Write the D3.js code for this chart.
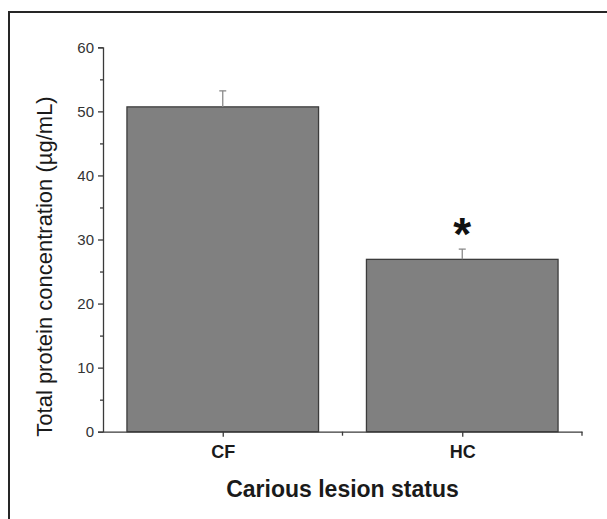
<!DOCTYPE html>
<html>
<head>
<meta charset="utf-8">
<script src="https://cdn.jsdelivr.net/npm/d3@7"></script>
<style>
  html, body { margin: 0; padding: 0; background: #fff; }
  svg { display: block; font-family: "Liberation Sans", Arial, sans-serif; }
</style>
</head>
<body>
<svg id="chart" width="607" height="519"></svg>
<script>
const categories = ["CF", "HC"];
const means = [50.7, 26.9];
const errors = [2.5, 1.6];
const significant = [false, true];
const yTicks = [0, 10, 20, 30, 40, 50, 60];
const yMinorTicks = [5, 15, 25, 35, 45, 55];

const svg = d3.select("#chart");

// frame around the figure (only left and top edges are visible)
svg.append("path")
    .attr("d", "M9,519 V12 H607")
    .attr("fill", "none")
    .attr("stroke", "#262626")
    .attr("stroke-width", 2);

const x0 = 103, x1 = 582;
const yTop = 47.3, yBottom = 431.7;

const xScale = d3.scaleBand()
    .domain(categories)
    .range([x0, x1])
    .paddingInner(0.2)
    .paddingOuter(0.1);

const xPoint = d3.scalePoint()
    .domain(categories)
    .range([x0, x1])
    .padding(0.5);

const yScale = d3.scaleLinear()
    .domain([0, 60])
    .range([yBottom, yTop]);

const axisColor = "#3a3a3a";

// bars
svg.selectAll(".bar")
    .data(categories)
    .enter()
    .append("rect")
    .attr("class", "bar")
    .attr("x", d => xScale(d))
    .attr("y", (d, i) => yScale(means[i]))
    .attr("width", xScale.bandwidth())
    .attr("height", (d, i) => yBottom - yScale(means[i]))
    .attr("fill", "#808080")
    .attr("stroke", "#3c3c3c")
    .attr("stroke-width", 1.3);

// error bars (upper half only)
const err = svg.append("g").attr("stroke", "#8a8a8a").attr("stroke-width", 1.3);
categories.forEach((c, i) => {
    const cx = xPoint(c);
    err.append("line")
        .attr("x1", cx).attr("x2", cx)
        .attr("y1", yScale(means[i])).attr("y2", yScale(means[i] + errors[i]));
    err.append("line")
        .attr("x1", cx - 3.5).attr("x2", cx + 3.5)
        .attr("y1", yScale(means[i] + errors[i])).attr("y2", yScale(means[i] + errors[i]));
});

// significance asterisk
svg.selectAll(".star")
    .data(categories.filter((c, i) => significant[i]))
    .enter()
    .append("text")
    .attr("class", "star")
    .attr("x", d => xPoint(d))
    .attr("y", d => yScale(means[categories.indexOf(d)] + errors[categories.indexOf(d)]) + 1)
    .attr("text-anchor", "middle")
    .attr("font-size", 46)
    .attr("font-weight", "bold")
    .attr("fill", "#111")
    .text("*");

// y axis
const yAxis = svg.append("g")
    .attr("transform", `translate(${x0},0)`)
    .call(d3.axisLeft(yScale).tickValues(yTicks).tickSize(5).tickPadding(4));
yAxis.select(".domain").attr("stroke", axisColor).attr("stroke-width", 1.3);
yAxis.selectAll(".tick line").attr("stroke", axisColor).attr("stroke-width", 1.3);
yAxis.selectAll(".tick text")
    .attr("font-size", 15)
    .attr("fill", "#333")
    .attr("font-family", "Liberation Sans, Arial, sans-serif");

const yMinor = svg.append("g")
    .attr("transform", `translate(${x0},0)`)
    .call(d3.axisLeft(yScale).tickValues(yMinorTicks).tickSize(3).tickFormat(""));
yMinor.select(".domain").remove();
yMinor.selectAll(".tick line").attr("stroke", axisColor).attr("stroke-width", 1.3);

// x axis
const xAxis = svg.append("g")
    .attr("transform", `translate(0,${yBottom})`)
    .call(d3.axisBottom(xPoint).tickSize(5).tickPadding(9).tickSizeOuter(0));
xAxis.select(".domain").attr("stroke", axisColor).attr("stroke-width", 1.3);
xAxis.selectAll(".tick line").attr("stroke", axisColor).attr("stroke-width", 1.3);
xAxis.selectAll(".tick text")
    .attr("font-size", 18)
    .attr("font-weight", "bold")
    .attr("fill", "#1a1a1a")
    .attr("font-family", "Liberation Sans, Arial, sans-serif");

// minor x ticks between and after categories
const xMinorPos = [(x0 + x1) / 2, x1];
svg.append("g").selectAll("line")
    .data(xMinorPos)
    .enter()
    .append("line")
    .attr("x1", d => d).attr("x2", d => d)
    .attr("y1", yBottom).attr("y2", yBottom + 4)
    .attr("stroke", axisColor)
    .attr("stroke-width", 1.3);

// axis titles
svg.append("text")
    .attr("x", (x0 + x1) / 2)
    .attr("y", 497)
    .attr("text-anchor", "middle")
    .attr("font-size", 23)
    .attr("font-weight", "bold")
    .attr("fill", "#1a1a1a")
    .text("Carious lesion status");

svg.append("text")
    .attr("transform", `translate(52,${(yTop + yBottom) / 2 + 27}) rotate(-90)`)
    .attr("text-anchor", "middle")
    .attr("font-size", 22)
    .attr("fill", "#1a1a1a")
    .text("Total protein concentration (µg/mL)");
</script>
</body>
</html>
